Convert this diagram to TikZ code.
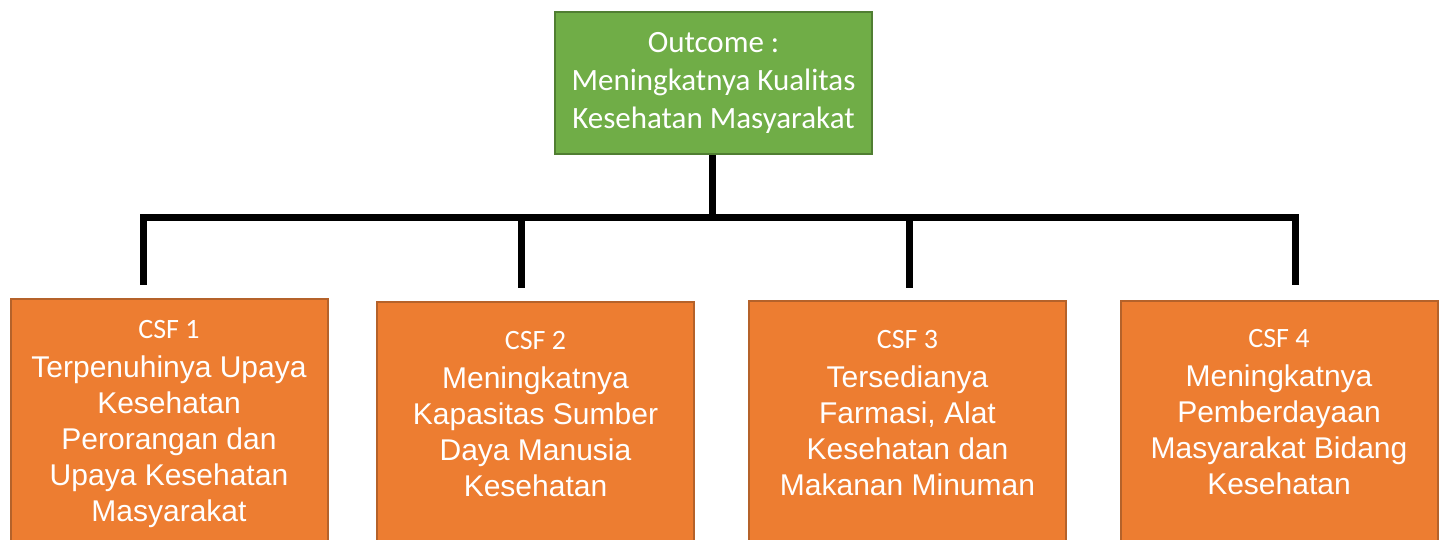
\documentclass[tikz,border=0pt]{standalone}
\usepackage{fontspec}
\setmainfont{Liberation Sans}
\newfontfamily\calibri{Carlito}
\definecolor{outgreen}{HTML}{70AD47}
\definecolor{outgreenb}{HTML}{507E32}
\definecolor{csforange}{HTML}{ED7D31}
\definecolor{csforangeb}{HTML}{B5622A}
\newcommand{\csfcap}[1]{\rule{0pt}{20pt}{\calibri\fontsize{28}{36}\selectfont #1}\\[3pt]}
\newcommand{\csflastdp}{\rule[-8pt]{0pt}{8pt}}
\begin{document}
\begin{tikzpicture}[x=1pt,y=1pt,
  outbox/.style={draw=outgreenb, line width=2pt, fill=outgreen, text=white,
    align=center, font=\calibri\fontsize{31}{38}\selectfont,
    minimum width=317pt, minimum height=142pt, inner sep=0pt},
  csfbox/.style={draw=csforangeb, line width=2pt, fill=csforange,
    minimum width=317pt, minimum height=300pt, anchor=north, inner sep=0pt},
  csftext/.style={text=white, align=center, anchor=north, inner sep=0pt,
    font=\fontsize{30}{36}\selectfont},
  conn/.style={draw=black, line width=7pt, line join=miter}]
\useasboundingbox (0,0) rectangle (1445,540);
\clip (0,0) rectangle (1445,540);

\node[outbox] (out) at (713.5,457) {Outcome :\\Meningkatnya Kualitas\\Kesehatan Masyarakat};

\node[csfbox] (csf1) at (169,242) {};
\node[csfbox] (csf2) at (535.5,239) {};
\node[csfbox] (csf3) at (907.5,240) {};
\node[csfbox] (csf4) at (1279,240) {};

\node[csftext] (t1) at (169,222) {\csfcap{CSF 1}Terpenuhinya Upaya\\Kesehatan\\Perorangan dan\\Upaya Kesehatan\\Masyarakat\csflastdp};
\node[csftext] (t2) at (535.5,211) {\csfcap{CSF 2}Meningkatnya\\Kapasitas Sumber\\Daya Manusia\\Kesehatan\csflastdp};
\node[csftext] (t3) at (907.5,212) {\csfcap{CSF 3}Tersedianya\\Farmasi, Alat\\Kesehatan dan\\Makanan Minuman\csflastdp};
\node[csftext] (t4) at (1279,213) {\csfcap{CSF 4}Meningkatnya\\Pemberdayaan\\Masyarakat Bidang\\Kesehatan\csflastdp};

\coordinate (stem) at (712,322);
\coordinate (b1) at (143,322);
\coordinate (b2) at (521,322);
\coordinate (b3) at (909,322);
\coordinate (b4) at (1295,322);
\coordinate (d1) at (143,255);
\coordinate (d2) at (521,252);
\coordinate (d3) at (909,252);
\coordinate (d4) at (1295,255);

\draw[conn] (out.south -| stem) -- (stem);
\draw[conn] (d1) -- (b1) -- (b4) -- (d4);
\draw[conn] (b2) -- (d2);
\draw[conn] (b3) -- (d3);
\end{tikzpicture}
\end{document}
